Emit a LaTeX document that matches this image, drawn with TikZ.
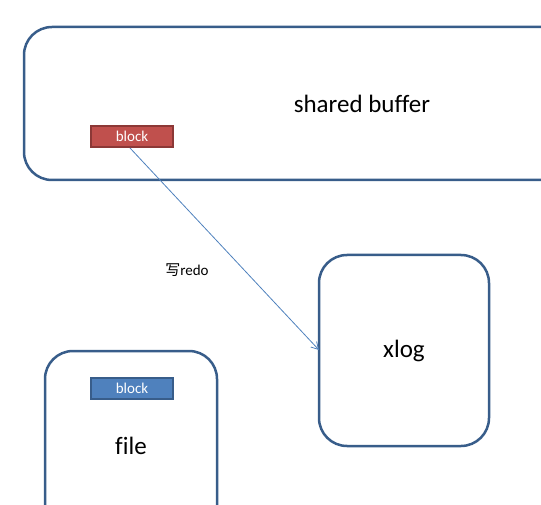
\documentclass[tikz,border=0pt]{standalone}
\usepackage{fontspec}
\setmainfont{Carlito}[Ligatures=NoCommon]
\newfontfamily\cjk{Noto Sans CJK SC}
\usetikzlibrary{arrows.meta}
\definecolor{boxline}{HTML}{385D8A}
\definecolor{redfill}{HTML}{C0504D}
\definecolor{redline}{HTML}{8C3836}
\definecolor{bluefill}{HTML}{4F81BD}
\tikzset{
  bigbox/.style={draw=boxline, line width=2.5pt, rounded corners=28pt},
  blockbox/.style={line width=2pt, minimum width=82pt, minimum height=21pt, inner sep=0pt, text=white, font=\fontsize{15}{17}\selectfont},
  redblock/.style={blockbox, draw=redline, fill=redfill},
  blueblock/.style={blockbox, draw=boxline, fill=bluefill},
  bigtext/.style={font=\fontsize{25}{28}\selectfont},
}
\begin{document}
\begin{tikzpicture}[x=1pt,y=-1pt]
\useasboundingbox (0,0) rectangle (541,505);
\clip (0,0) rectangle (541,505);
% shared buffer
\draw[bigbox] (24,27) rectangle (600,180);
\node[bigtext] (sb) at (362,104) {shared buffer};
\node[redblock] (rb) at (132,136.5) {block};
% xlog
\draw[bigbox] (319,255) rectangle (489,446);
\coordinate (xl) at (319,350);
\node[bigtext] (xlog) at (404,351) {xlog};
% file
\draw[bigbox] (45,351) rectangle (217,560);
\node[blueblock] (bb) at (132,388) {block};
\node[bigtext] (file) at (131,446) {file};
% arrow
\draw[draw=bluefill, line width=0.8pt, -{Straight Barb[length=7pt,width=8pt]}] (rb.south) ++(-2,0) coordinate (s) (s) -- (xl);
\node[font=\fontsize{15}{17}\selectfont] (lbl) at (187,270) {{\cjk 写}redo};
\end{tikzpicture}
\end{document}
